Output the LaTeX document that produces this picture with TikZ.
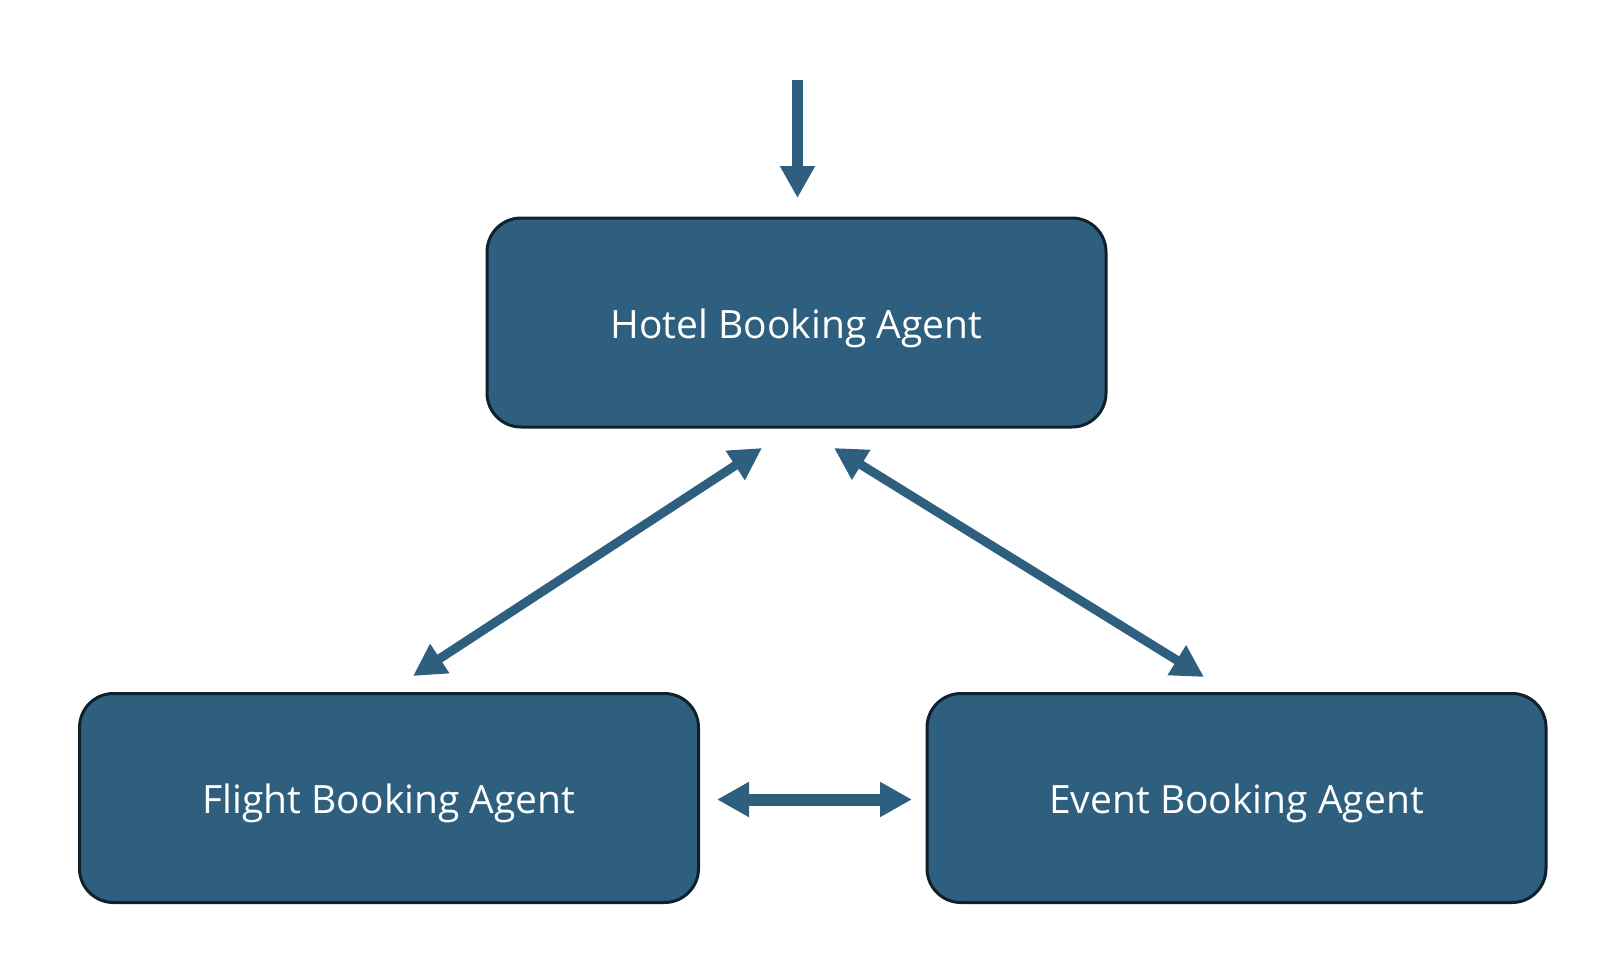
\documentclass[tikz,border=0pt]{standalone}
\usepackage{fontspec}
\setmainfont{Open Sans}
\usetikzlibrary{arrows.meta}
\definecolor{boxfill}{RGB}{46,95,126}
\definecolor{boxline}{RGB}{16,33,46}
\definecolor{arrowc}{RGB}{46,95,126}
\tikzset{
  agent/.style={draw=boxline, line width=3pt, fill=boxfill, rounded corners=34pt,
    minimum width=619pt, minimum height=209pt, text=white, font=\fontsize{39}{44}\selectfont,
    inner sep=0pt, text height=31pt, text depth=0pt},
  conn/.style={draw=arrowc, line width=9pt},
  tipa/.style={-{Triangle[length=32pt,width=33pt]}},
  tipb/.style={{Triangle[length=32pt,width=33pt]}-{Triangle[length=32pt,width=33pt]}}
}
\begin{document}
\begin{tikzpicture}[x=1pt,y=-1pt]
\useasboundingbox (0,0) rectangle (1622,964);
\node[agent] (hotel) at (796.5,322.5) {Hotel Booking Agent};
\node[agent] (flight) at (389,798) {Flight Booking Agent};
\node[agent] (event) at (1236.5,798) {Event Booking Agent};
\coordinate (in) at (797.5,80);
\coordinate (inend) at (797.5,198);
\coordinate (hl) at (762,448);
\coordinate (fl) at (413,676);
\coordinate (hr) at (834,448);
\coordinate (er) at (1204,677);
\coordinate (fe1) at (717,799.5);
\coordinate (fe2) at (912,799.5);
\draw[conn, line width=11pt, tipa] (in) -- (inend);
\draw[conn, tipb] (hl) -- (fl);
\draw[conn, tipb] (hr) -- (er);
\draw[conn, line width=12pt, tipb] (fe1) -- (fe2);
\end{tikzpicture}
\end{document}
